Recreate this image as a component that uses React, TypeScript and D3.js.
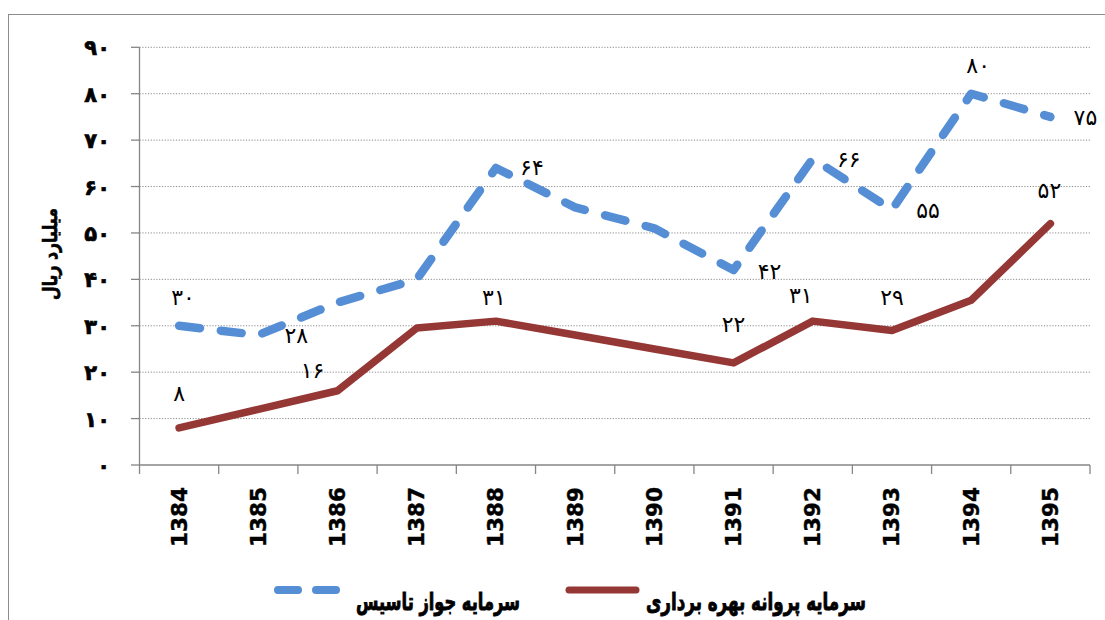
import React from "react";
import * as d3 from "d3";

const YEARS = ["1384","1385","1386","1387","1388","1389","1390","1391","1392","1393","1394","1395"];
const LICENSE_CAPITAL = [30, 28, 35, 40, 64, 55.5, 51, 42, 66, 55, 80, 75]; // سرمایه جواز تاسیس
const OPERATION_CAPITAL = [8, 12, 16, 29.5, 31, 28, 25, 22, 31, 29, 35.5, 52]; // سرمایه پروانه بهره برداری
const LICENSE_LABELLED = [true, true, false, false, true, false, false, true, true, true, true, true];
const OPERATION_LABELLED = [true, false, true, false, true, false, false, true, true, true, false, true];
const Y_TICKS = [0, 10, 20, 30, 40, 50, 60, 70, 80, 90];
const SERIES_NAMES = ["سرمایه جواز تاسیس", "سرمایه پروانه بهره برداری"];
const Y_TITLE = "میلیارد ریال";

// label placement (styling)
const LICENSE_LABEL_OFFSETS: [number, number][] = [
  [4, -29], [38, 0], [0, 0], [0, 0], [36, -1], [0, 0], [0, 0], [36, 1], [36, 0], [36, 0], [7, -29], [35, 0],
];
const OPERATION_LABEL_OFFSETS: [number, number][] = [
  [0, -35], [0, 0], [-25, -21], [0, 0], [-2, -24], [0, 0], [0, 0], [0, -39], [-12, -26], [0, -34], [0, 0], [-1, -34],
];

const toFa = (n: number) => String(n).replace(/\d/g, (d) => "۰۱۲۳۴۵۶۷۸۹"[+d]);

const BLUE = "#558ED5";
const RED = "#953735";
const AXIS = "#868686";

export default function App() {
  const left = 139.5, right = 1090, top = 47.3, bottom = 465;
  const x = d3.scaleBand<string>().domain(YEARS).range([left, right]).padding(0);
  const y = d3.scaleLinear().domain([0, 90]).range([bottom, top]);
  const cx = (yr: string) => (x(yr) as number) + x.bandwidth() / 2;

  const line = d3.line<number>().x((_, i) => cx(YEARS[i])).y((v) => y(v));

  const font = "'DejaVu Sans', sans-serif";
  const heavy = { stroke: "#000", strokeWidth: 0.9, paintOrder: "stroke" as const };

  return (
    <svg width={1105} height={620} style={{ position: "absolute", left: 0, top: 0, background: "#fff" }}
      fontFamily={font}>
      <rect x={8.5} y={14.5} width={1200} height={700} fill="#fff" stroke="#8c8c8c" strokeWidth={1} />

      {/* gridlines */}
      {Y_TICKS.filter((t) => t > 0).map((t) => (
        <line key={"g" + t} x1={left} x2={right} y1={y(t)} y2={y(t)} stroke="#8a8a8a" strokeWidth={1}
          strokeDasharray="1.2 1.6" />
      ))}
      {/* y ticks */}
      {Y_TICKS.map((t) => (
        <line key={"t" + t} x1={131} x2={left} y1={y(t)} y2={y(t)} stroke={AXIS} strokeWidth={1.3} />
      ))}
      {Y_TICKS.map((t) => (
        <text key={"yl" + t} x={110} y={y(t)} dy="0.38em" textAnchor="end" fontSize={21} fontWeight="bold" fill="#000"
          {...heavy} strokeWidth={0.7}>
          {toFa(t)}
        </text>
      ))}
      {/* axes */}
      <line x1={left} x2={left} y1={y(90)} y2={bottom} stroke={AXIS} strokeWidth={1.3} />
      <line x1={left} x2={right} y1={bottom} y2={bottom} stroke={AXIS} strokeWidth={1.3} />
      {YEARS.map((yr) => (
        <line key={"xt" + yr} x1={x(yr) as number} x2={x(yr) as number} y1={bottom} y2={bottom + 9} stroke={AXIS} strokeWidth={1.3} />
      ))}
      <line x1={right} x2={right} y1={bottom} y2={bottom + 9} stroke={AXIS} strokeWidth={1.3} />
      {YEARS.map((yr) => (
        <text key={"xl" + yr} transform={`translate(${cx(yr) + 7.5},487) rotate(-90)`} textAnchor="end"
          fontSize={21} fontWeight="bold" fill="#000" textLength={60} lengthAdjust="spacingAndGlyphs"
          stroke="#000" strokeWidth={0.4}>
          {yr}
        </text>
      ))}

      {/* y title */}
      <text transform="translate(57,254) rotate(-90)" textAnchor="middle" fontSize={20} fontWeight="bold" fill="#000"
        textLength={92} lengthAdjust="spacingAndGlyphs" {...heavy} strokeWidth={0.6}>
        {Y_TITLE}
      </text>

      {/* series */}
      <path d={line(OPERATION_CAPITAL) || ""} fill="none" stroke={RED} strokeWidth={7.5} strokeLinecap="round" strokeLinejoin="round" />
      <path d={line(LICENSE_CAPITAL) || ""} fill="none" stroke={BLUE} strokeWidth={8.5} strokeLinecap="round"
        strokeLinejoin="round" strokeDasharray="21 21" />

      {/* data labels */}
      {LICENSE_CAPITAL.map((v, i) => LICENSE_LABELLED[i] ? (
        <text key={"bl" + i} x={cx(YEARS[i]) + LICENSE_LABEL_OFFSETS[i][0]} y={y(v) + LICENSE_LABEL_OFFSETS[i][1]}
          dy="0.38em" textAnchor="middle" fontSize={22} fill="#000">{toFa(Math.round(v))}</text>
      ) : null)}
      {OPERATION_CAPITAL.map((v, i) => OPERATION_LABELLED[i] ? (
        <text key={"rl" + i} x={cx(YEARS[i]) + OPERATION_LABEL_OFFSETS[i][0]} y={y(v) + OPERATION_LABEL_OFFSETS[i][1]}
          dy="0.38em" textAnchor="middle" fontSize={22} fill="#000">{toFa(Math.round(v))}</text>
      ) : null)}

      {/* legend */}
      <line x1={278} x2={336} y1={590} y2={590} stroke={BLUE} strokeWidth={8} strokeLinecap="round" strokeDasharray="20 18" />
      <text x={438} y={610} textAnchor="middle" fontSize={24} fontWeight="bold" fill="#000"
        textLength={164} lengthAdjust="spacingAndGlyphs" {...heavy}>{SERIES_NAMES[0]}</text>
      <line x1={569} x2={636} y1={590} y2={590} stroke={RED} strokeWidth={7} strokeLinecap="round" />
      <text x={756} y={610} textAnchor="middle" fontSize={24} fontWeight="bold" fill="#000"
        textLength={220} lengthAdjust="spacingAndGlyphs" {...heavy}>{SERIES_NAMES[1]}</text>
    </svg>
  );
}
